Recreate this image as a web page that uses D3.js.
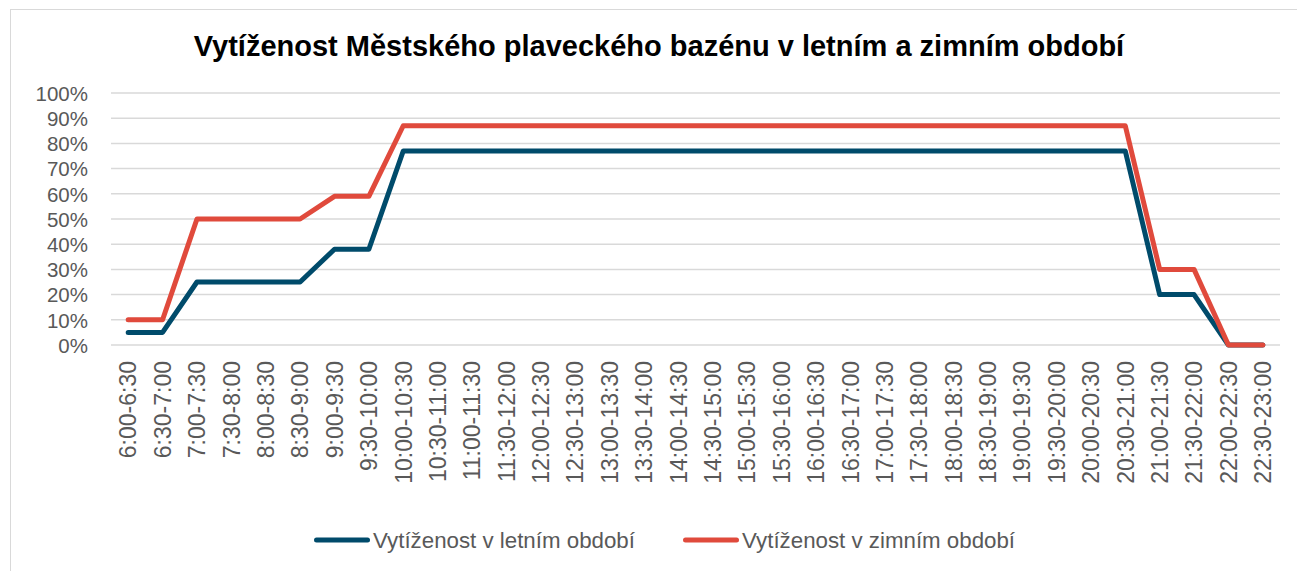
<!DOCTYPE html>
<html>
<head>
<meta charset="utf-8">
<script src="https://cdn.jsdelivr.net/npm/d3@7"></script>
<style>
  body { margin: 0; background: #fff; }
  svg { font-family: "Liberation Sans", Arial, sans-serif; }
</style>
</head>
<body>
<div id="chart"></div>
<script>
// Data
const categories = [
  '6:00-6:30', '6:30-7:00', '7:00-7:30', '7:30-8:00', '8:00-8:30', '8:30-9:00',
  '9:00-9:30', '9:30-10:00', '10:00-10:30', '10:30-11:00', '11:00-11:30', '11:30-12:00',
  '12:00-12:30', '12:30-13:00', '13:00-13:30', '13:30-14:00', '14:00-14:30', '14:30-15:00',
  '15:00-15:30', '15:30-16:00', '16:00-16:30', '16:30-17:00', '17:00-17:30', '17:30-18:00',
  '18:00-18:30', '18:30-19:00', '19:00-19:30', '19:30-20:00', '20:00-20:30', '20:30-21:00',
  '21:00-21:30', '21:30-22:00', '22:00-22:30', '22:30-23:00'
];
const summer = [5, 5, 25, 25, 25, 25, 38, 38, 77, 77, 77, 77, 77, 77, 77, 77, 77, 77,
  77, 77, 77, 77, 77, 77, 77, 77, 77, 77, 77, 77, 20, 20, 0, 0];
const winter = [10, 10, 50, 50, 50, 50, 59, 59, 87, 87, 87, 87, 87, 87, 87, 87, 87, 87,
  87, 87, 87, 87, 87, 87, 87, 87, 87, 87, 87, 87, 30, 30, 0, 0];
const yTicks = [0, 10, 20, 30, 40, 50, 60, 70, 80, 90, 100];
const series = [
  { name: 'Vytíženost v letním období', values: summer, color: '#004b6b' },
  { name: 'Vytíženost v zimním období', values: winter, color: '#e04a3c' }
];

const width = 1297, height = 571;
const svg = d3.select('#chart').append('svg')
  .attr('width', width)
  .attr('height', height);

// okraj grafu
svg.append('rect')
  .attr('x', 10.5).attr('y', 9.5)
  .attr('width', width + 20).attr('height', height + 20)
  .attr('fill', '#fff')
  .attr('stroke', '#d9d9d9')

const plot = { left: 111, right: 1280, top: 93, bottom: 345 };

const x = d3.scaleBand()
  .domain(categories)
  .range([plot.left, plot.right]);

const y = d3.scaleLinear()
  .domain([0, 100])
  .range([plot.bottom, plot.top]);

// Title
svg.append('text')
  .attr('x', 659)
  .attr('y', 56)
  .attr('text-anchor', 'middle')
  .attr('font-size', '29px')
  .attr('font-weight', 'bold')
  .attr('fill', '#000')
  .text('Vytíženost Městského plaveckého bazénu v letním a zimním období');

// Gridlines
svg.append('g')
  .selectAll('line')
  .data(yTicks)
  .enter()
  .append('line')
  .attr('x1', plot.left)
  .attr('x2', plot.right)
  .attr('y1', d => y(d))
  .attr('y2', d => y(d))
  .attr('stroke', '#d9d9d9')
  .attr('stroke-width', 1.5);

// Y axis
const yAxis = svg.append('g')
  .attr('transform', `translate(${plot.left - 23},0)`)
  .call(d3.axisLeft(y).tickValues(yTicks).tickFormat(d => d + '%').tickSize(0));
yAxis.select('.domain').remove();
yAxis.selectAll('text')
  .attr('font-size', '20.5px')
  .attr('font-family', '"Liberation Sans", Arial, sans-serif')
  .attr('fill', '#595959')
  .attr('x', 0)
  .attr('dy', '0.36em');

// X axis
const xAxis = svg.append('g')
  .attr('transform', `translate(0,${plot.bottom})`)
  .call(d3.axisBottom(x).tickSize(0));
xAxis.select('.domain').remove();
xAxis.selectAll('text')
  .attr('font-size', '23px')
  .attr('font-family', '"Liberation Sans", Arial, sans-serif')
  .attr('fill', '#595959')
  .attr('transform', 'rotate(-90)')
  .attr('text-anchor', 'end')
  .attr('x', -16)
  .attr('y', 0)
  .attr('dy', '0.36em');

// Lines
const line = d3.line()
  .x((d, i) => x(categories[i]) + x.bandwidth() / 2)
  .y(d => y(d));

svg.selectAll('path.series')
  .data(series)
  .enter()
  .append('path')
  .attr('class', 'series')
  .attr('d', d => line(d.values))
  .attr('fill', 'none')
  .attr('stroke', d => d.color)
  .attr('stroke-width', 5)
  .attr('stroke-linejoin', 'round')
  .attr('stroke-linecap', 'round');

// Legend
const legendX = [316.5, 685.5];
const legend = svg.selectAll('g.legend')
  .data(series)
  .enter()
  .append('g')
  .attr('class', 'legend')
  .attr('transform', (d, i) => `translate(${legendX[i]},540)`);

legend.append('line')
  .attr('x1', 0).attr('x2', 51)
  .attr('y1', 0).attr('y2', 0)
  .attr('stroke', d => d.color)
  .attr('stroke-width', 5)
  .attr('stroke-linecap', 'round');

legend.append('text')
  .attr('x', 56.5)
  .attr('y', 0)
  .attr('dy', '0.36em')
  .attr('font-size', '22.3px')
  .attr('fill', '#595959')
  .text(d => d.name);
</script>
</body>
</html>
